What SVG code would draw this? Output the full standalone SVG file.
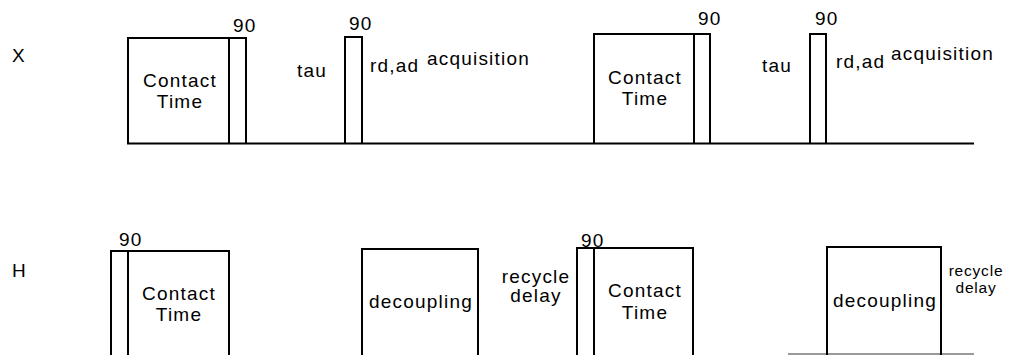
<svg xmlns="http://www.w3.org/2000/svg" width="1011" height="355" viewBox="0 0 1011 355">
<style>
.b{fill:none;stroke:#000;stroke-width:2}
.t{font-family:"Liberation Sans",Arial,sans-serif;font-size:19px;letter-spacing:1.2px;fill:#000}
.m{text-anchor:middle}
.s{font-size:15.5px;letter-spacing:0.8px}
.base{stroke:#000;stroke-width:2}
</style>
<rect width="1011" height="355" fill="#fff"/>
<g id="channel-labels">
<text class="t" x="12" y="62">X</text>
<text class="t" x="12" y="277">H</text>
</g>
<g id="connectors">
<line class="base" x1="127" y1="143.5" x2="974" y2="143.5"/>
<line x1="788" y1="354" x2="974" y2="354" stroke="#999" stroke-width="2"/>
</g>
<g id="x-contact-1">
<path class="b" d="M128,144 V38 H229 V144"/>
<text class="t m" x="180" y="87">Contact</text>
<text class="t m" x="180" y="108">Time</text>
</g>
<g id="x-pulse-1">
<path class="b" d="M229,144 V38 H246 V144"/>
<text class="t" x="233" y="32">90</text>
</g>
<g id="x-tau-1"><text class="t" x="297" y="77">tau</text></g>
<g id="x-pulse-2">
<path class="b" d="M345,144 V37 H362 V144"/>
<text class="t" x="349" y="30">90</text>
</g>
<g id="x-rdad-1"><text class="t" x="370" y="72">rd,ad</text></g>
<g id="x-acq-1"><text class="t" x="427" y="65">acquisition</text></g>
<g id="x-contact-2">
<path class="b" d="M594,144 V34 H694 V144"/>
<text class="t m" x="645" y="84">Contact</text>
<text class="t m" x="645" y="105">Time</text>
</g>
<g id="x-pulse-3">
<path class="b" d="M694,144 V34 H710 V144"/>
<text class="t" x="698" y="25">90</text>
</g>
<g id="x-tau-2"><text class="t" x="762" y="72">tau</text></g>
<g id="x-pulse-4">
<path class="b" d="M810,144 V34 H826 V144"/>
<text class="t" x="815" y="25">90</text>
</g>
<g id="x-rdad-2"><text class="t" x="836" y="68">rd,ad</text></g>
<g id="x-acq-2"><text class="t" x="891" y="60">acquisition</text></g>
<g id="h-pulse-1">
<path class="b" d="M111,360 V251 H128 V360"/>
<text class="t" x="119" y="246">90</text>
</g>
<g id="h-contact-1">
<path class="b" d="M128,360 V251 H229 V360"/>
<text class="t m" x="179" y="300">Contact</text>
<text class="t m" x="179" y="321">Time</text>
</g>
<g id="h-decoupling-1">
<path class="b" d="M362,360 V249 H478 V360"/>
<text class="t m" x="421" y="308">decoupling</text>
</g>
<g id="h-recycle-1">
<text class="t m" x="536" y="283">recycle</text>
<text class="t m" x="536" y="302">delay</text>
</g>
<g id="h-pulse-2">
<path class="b" d="M577,360 V248 H594 V360"/>
<text class="t" x="581" y="247">90</text>
</g>
<g id="h-contact-2">
<path class="b" d="M594,360 V248 H693 V360"/>
<text class="t m" x="645" y="297">Contact</text>
<text class="t m" x="645" y="319">Time</text>
</g>
<g id="h-decoupling-2">
<path class="b" d="M827,360 V247 H941 V360"/>
<text class="t m" x="885" y="307">decoupling</text>
</g>
<g id="h-recycle-2">
<text class="t s m" x="976" y="276">recycle</text>
<text class="t s m" x="976" y="293">delay</text>
</g>
</svg>
